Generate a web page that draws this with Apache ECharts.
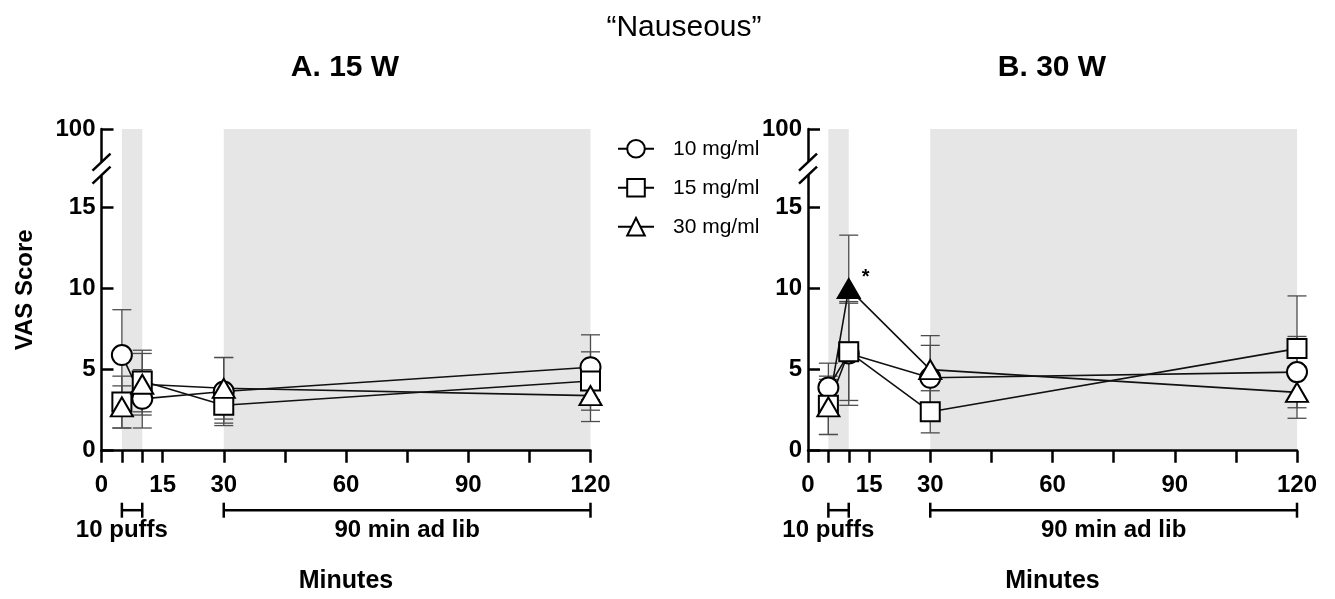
<!DOCTYPE html>
<html><head><meta charset="utf-8">
<script src="https://cdn.jsdelivr.net/npm/echarts@6/dist/echarts.min.js"></script>
<style>html,body{margin:0;padding:0;background:#fff}#c{width:1335px;height:599px}</style>
</head><body><div id="c"></div>
<script>
// ---------- data ----------
const times = [5, 10, 30, 120];
const doses = ['10 mg/ml', '15 mg/ml', '30 mg/ml'];
// Panel A: 15 W
const a10 = [5.9, 3.2, 3.65, 5.15];
const a10Err = [2.8, 1.8, 2.1, 2.0];
const a15 = [3.0, 4.3, 2.8, 4.3];
const a15Err = [1.6, 1.9, 1.1, 1.8];
const a30 = [2.7, 4.1, 3.85, 3.4];
const a30Err = [1.3, 1.9, 1.9, 1.6];
// Panel B: 30 W
const b10 = [3.9, 6.0, 4.5, 4.85];
const b10Err = [1.5, 3.2, 2.0, 2.2];
const b15 = [2.8, 6.1, 2.4, 6.3];
const b15Err = [1.8, 3.0, 1.3, 3.25];
const b30 = [2.7, 10.0, 5.0, 3.6];
const b30Err = [1.7, 3.3, 2.1, 1.6];
const b30Significant = [false, true, false, false];

const xTicks = [0, 5, 10, 15, 30, 45, 60, 75, 90, 105, 120];
const xTickLabels = [0, 15, 30, 60, 90, 120];
const yTickLabels = [0, 5, 10, 15];
const yBreakTop = 19.85;      // axis position of the "100" tick (after the break)
const yTopLabel = '100';
const yBreakMark = 17.4;      // where the "//" break sits on the axis
const shadedBands = [[5, 10], [30, 120]];
const periods = [[5, 10, 5], [30, 120, 75]];
const periodTexts = ['10 puffs', '90 min ad lib'];
const panelTitles = ['A. 15 W', 'B. 30 W'];
const mainTitle = '\u201CNauseous\u201D';

// ---------- styling ----------
const FF = "'Liberation Sans', Arial, Helvetica, sans-serif";
const grids = [
  {left: 101.5, right: 1335 - 590.5, top: 129, bottom: 599 - 450.7},
  {left: 808, right: 1335 - 1297, top: 129, bottom: 599 - 450.7}
];
const symbols = ['circle', 'rect', 'triangle'];
const symbolSizes = [20, 19, [22, 19]];

const panels = [
  {vals: [a10, a15, a30], errs: [a10Err, a15Err, a30Err], sig: [null, null, null]},
  {vals: [b10, b15, b30], errs: [b10Err, b15Err, b30Err], sig: [null, null, b30Significant]}
];

const series = [];

// legend dummies
doses.forEach((d, k) => {
  series.push({
    type: 'line', name: d, data: [], xAxisIndex: 0, yAxisIndex: 0,
    symbol: symbols[k], symbolSize: 18,
    itemStyle: {color: '#fff', borderColor: '#000', borderWidth: 2},
    lineStyle: {color: '#000', width: 1.6}
  });
});

panels.forEach((p, gi) => {
  // shaded bands
  series.push({
    type: 'line', data: [], xAxisIndex: gi, yAxisIndex: gi, z: 0, silent: true,
    markArea: {
      silent: true,
      itemStyle: {color: '#e6e6e6'},
      data: shadedBands.map(b => [{xAxis: b[0]}, {xAxis: b[1]}])
    }
  });
  // error bars
  p.vals.forEach((vals, k) => {
    const errs = p.errs[k];
    series.push({
      type: 'custom', xAxisIndex: gi, yAxisIndex: gi, z: 6, silent: true, clip: false,
      encode: {x: 0, y: [1, 2]},
      data: times.map((t, i) => [t, vals[i] - errs[i], vals[i] + errs[i]]),
      renderItem: (params, api) => {
        const lo = api.coord([api.value(0), api.value(1)]);
        const hi = api.coord([api.value(0), api.value(2)]);
        const w = 9.5;
        const st = {stroke: '#4d4d4d', lineWidth: 1.3};
        return {type: 'group', children: [
          {type: 'line', shape: {x1: lo[0], y1: lo[1], x2: hi[0], y2: hi[1]}, style: st},
          {type: 'line', shape: {x1: hi[0] - w, y1: hi[1], x2: hi[0] + w, y2: hi[1]}, style: st},
          {type: 'line', shape: {x1: lo[0] - w, y1: lo[1], x2: lo[0] + w, y2: lo[1]}, style: st}
        ]};
      }
    });
  });
  // lines
  p.vals.forEach((vals, k) => {
    series.push({
      type: 'line', xAxisIndex: gi, yAxisIndex: gi, z: 7, silent: true,
      symbol: 'none', data: times.map((t, i) => [t, vals[i]]),
      lineStyle: {color: '#111', width: 1.6}
    });
  });
  // markers
  p.vals.forEach((vals, k) => {
    const sig = p.sig[k];
    series.push({
      type: 'scatter', xAxisIndex: gi, yAxisIndex: gi, z: 8 + k, silent: true,
      symbol: symbols[k], symbolSize: symbolSizes[k],
      itemStyle: {color: '#fff', borderColor: '#000', borderWidth: 2, opacity: 1},
      data: times.map((t, i) => {
        if (sig && sig[i]) {
          return {value: [t, vals[i]], itemStyle: {color: '#000'},
            label: {show: true, formatter: '*', position: 'right', offset: [-4, -11],
              fontSize: 20, fontWeight: 'bold', color: '#000', fontFamily: FF}};
        }
        return [t, vals[i]];
      })
    });
  });
  // period brackets below axis
  series.push({
    type: 'custom', xAxisIndex: gi, yAxisIndex: gi, z: 10, silent: true, clip: false,
    encode: {x: [0, 1, 2]},
    data: periods,
    renderItem: (params, api) => {
      const s = api.coord([api.value(0), 0]);
      const e = api.coord([api.value(1), 0]);
      const c = api.coord([api.value(2), 0]);
      const y = s[1] + 59.5;
      const st = {stroke: '#000', lineWidth: 2.5};
      return {type: 'group', children: [
        {type: 'line', shape: {x1: s[0], y1: y, x2: e[0], y2: y}, style: st},
        {type: 'line', shape: {x1: s[0], y1: y - 7.5, x2: s[0], y2: y + 7.5}, style: st},
        {type: 'line', shape: {x1: e[0], y1: y - 7.5, x2: e[0], y2: y + 7.5}, style: st},
        {type: 'text', x: c[0], y: s[1] + 79.5, style: {
          text: periodTexts[params.dataIndex], fill: '#000',
          font: 'bold 24px ' + FF, fontSize: 24, fontWeight: 'bold', fontFamily: FF,
          align: 'center', verticalAlign: 'middle', textAlign: 'center', textVerticalAlign: 'middle'}}
      ]};
    }
  });
  // axis break mark
  series.push({
    type: 'custom', xAxisIndex: gi, yAxisIndex: gi, z: 20, silent: true, clip: false,
    encode: {x: 0, y: 1},
    data: [[0, yBreakMark]],
    renderItem: (params, api) => {
      const c = api.coord([api.value(0), api.value(1)]);
      const x = c[0], y = c[1], dx = 9, dy = 8.5, sep = 6.5;
      const st = {stroke: '#000', lineWidth: 2.5};
      return {type: 'group', children: [
        {type: 'polygon', shape: {points: [[x - dx, y + sep + dy], [x + dx, y + sep - dy], [x + dx, y - sep - dy], [x - dx, y - sep + dy]]}, style: {fill: '#fff'}},
        {type: 'line', shape: {x1: x - dx, y1: y + sep + dy, x2: x + dx, y2: y + sep - dy}, style: st},
        {type: 'line', shape: {x1: x - dx, y1: y - sep + dy, x2: x + dx, y2: y - sep - dy}, style: st}
      ]};
    }
  });
});

const axisLineStyle = {color: '#000', width: 2.5};
const labelStyle = {fontSize: 24, fontWeight: 'bold', color: '#000', fontFamily: FF};

const option = {
  backgroundColor: '#fff',
  animation: false,
  grid: grids.map(g => Object.assign({containLabel: false}, g)),
  xAxis: [0, 1].map(i => ({
    type: 'value', gridIndex: i, min: 0, max: 120, z: 5,
    axisLine: {show: true, onZero: false, lineStyle: axisLineStyle},
    axisTick: {show: true, inside: false, length: 12, lineStyle: axisLineStyle, customValues: xTicks},
    axisLabel: Object.assign({customValues: xTickLabels, margin: 23}, labelStyle),
    splitLine: {show: false},
    name: 'Minutes', nameLocation: 'middle', nameGap: 118,
    nameTextStyle: {fontSize: 25, fontWeight: 'bold', color: '#000', fontFamily: FF}
  })),
  yAxis: [0, 1].map(i => ({
    type: 'value', gridIndex: i, min: 0, max: yBreakTop, z: 5,
    axisLine: {show: true, onZero: false, lineStyle: axisLineStyle},
    axisTick: {show: true, inside: true, length: 12, lineStyle: axisLineStyle, customValues: yTickLabels.concat([yBreakTop])},
    axisLabel: Object.assign({customValues: yTickLabels.concat([yBreakTop]), margin: 6,
      formatter: v => (v > 15 ? yTopLabel : String(v))}, labelStyle),
    splitLine: {show: false},
    name: i === 0 ? 'VAS Score' : '', nameLocation: 'middle', nameGap: 64,
    nameTextStyle: {fontSize: 24, fontWeight: 'bold', color: '#000', fontFamily: FF}
  })),
  legend: {
    data: doses, orient: 'vertical', left: 617, top: 138.3, padding: 0,
    itemWidth: 36, itemHeight: 22, itemGap: 18, selectedMode: false,
    textStyle: {fontSize: 21, color: '#000', fontFamily: FF, padding: [0, 0, 0, 14]}
  },
  graphic: [
    {type: 'text', x: 684, y: 28, style: {text: mainTitle, fill: '#000', font: '30px ' + FF,
      fontSize: 30, fontFamily: FF, align: 'center', verticalAlign: 'middle', textAlign: 'center', textVerticalAlign: 'middle'}},
    {type: 'text', x: 345, y: 68, style: {text: panelTitles[0], fill: '#000', font: 'bold 30px ' + FF,
      fontSize: 30, fontWeight: 'bold', fontFamily: FF, align: 'center', verticalAlign: 'middle', textAlign: 'center', textVerticalAlign: 'middle'}},
    {type: 'text', x: 1052, y: 68, style: {text: panelTitles[1], fill: '#000', font: 'bold 30px ' + FF,
      fontSize: 30, fontWeight: 'bold', fontFamily: FF, align: 'center', verticalAlign: 'middle', textAlign: 'center', textVerticalAlign: 'middle'}}
  ],
  series: series
};

const chart = echarts.init(document.getElementById('c'), null, {renderer: 'canvas'});
chart.setOption(option);
</script>
</body></html>
